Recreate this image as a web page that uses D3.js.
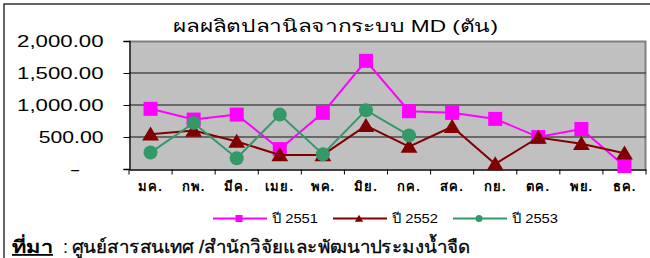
<!DOCTYPE html>
<html>
<head>
<meta charset="utf-8">
<script src="https://cdn.jsdelivr.net/npm/d3@7"></script>
<style>
  body { margin: 0; background: #fff; }
  text { font-family: Arial, "Liberation Sans", sans-serif; }
</style>
</head>
<body>
<svg id="chart" width="650" height="258"></svg>
<script>
var months = ["มค.", "กพ.", "มีค.", "เมย.", "พค.", "มิย.", "กค.", "สค.", "กย.", "ตค.", "พย.", "ธค."];
var y2551 = [940, 772, 850, 310, 877, 1690, 903, 877, 783, 499, 625, 47];
var y2552 = [543, 603, 430, 220, 220, 677, 351, 660, 79, 493, 394, 247];
var y2553 = [257, 720, 168, 850, 231, 918, 525];
var yTicks = [0, 500, 1000, 1500, 2000];
var yLabels = ["-", "500.00", "1,000.00", "1,500.00", "2,000.00"];

var series = [
  { name: "ปี 2551", values: y2551, color: "#ff00ff", marker: "square" },
  { name: "ปี 2552", values: y2552, color: "#800000", marker: "triangle" },
  { name: "ปี 2553", values: y2553, color: "#339966", marker: "circle" }
];

var svg = d3.select("#chart");

// outer frame (cut off at right and bottom like the source)
svg.append("rect").attr("x", 4).attr("y", 4).attr("width", 660).attr("height", 270)
  .attr("fill", "none").attr("stroke", "#000").attr("stroke-width", 1.2);

svg.append("text").attr("x", 173).attr("y", 32)
  .attr("font-size", 17).attr("fill", "#000")
  .attr("textLength", 325).attr("lengthAdjust", "spacingAndGlyphs")
  .text("ผลผลิตปลานิลจากระบบ MD (ตัน)");

var x = d3.scaleBand().domain(months).range([129, 646]);
var y = d3.scaleLinear().domain([0, 2000]).range([169, 41]);

// plot area
svg.append("rect").attr("x", 129).attr("y", 41).attr("width", 517).attr("height", 128)
  .attr("fill", "#c0c0c0");
svg.append("path").attr("d", "M129,41.5H645.5V169").attr("fill", "none")
  .attr("stroke", "#808080").attr("stroke-width", 2);

// gridlines
svg.append("g").selectAll("line").data(yTicks.slice(1, 4)).enter().append("line")
  .attr("x1", 129).attr("x2", 646)
  .attr("y1", function (d) { return y(d); }).attr("y2", function (d) { return y(d); })
  .attr("stroke", "#4d4d4d").attr("stroke-width", 1.5);

// y axis
var yAxis = svg.append("g").attr("transform", "translate(129.5,0)")
  .call(d3.axisLeft(y).tickValues(yTicks).tickSize(6)
    .tickFormat(function (d, i) { return yLabels[i]; }));
yAxis.select(".domain").attr("stroke", "#000").attr("stroke-width", 1.3);
yAxis.selectAll(".tick line").attr("stroke", "#000");
yAxis.selectAll("text")
  .attr("x", function (d) { return d === 0 ? -49 : -26; })
  .attr("dy", "0.3em")
  .attr("font-size", 17).attr("fill", "#000")
  .attr("font-family", "Arial, 'Liberation Sans', sans-serif")
  .attr("textLength", function (d, i) { return yLabels[i].length * 10.8; })
  .attr("lengthAdjust", "spacingAndGlyphs");

// x axis
var xAxis = svg.append("g").attr("transform", "translate(0,169.5)")
  .call(d3.axisBottom(x).tickSize(0).tickPadding(12));
xAxis.select(".domain").attr("stroke", "#000").attr("stroke-width", 1.3);
xAxis.selectAll("text").attr("font-size", 13).attr("font-weight", "bold").attr("fill", "#000")
  .attr("letter-spacing", 1).attr("font-family", "Arial, 'Liberation Sans', sans-serif");
xAxis.selectAll("line.bt").data(d3.range(months.length + 1)).enter().append("line")
  .attr("class", "bt")
  .attr("x1", function (i) { return 129 + i * x.step(); })
  .attr("x2", function (i) { return 129 + i * x.step(); })
  .attr("y1", 0).attr("y2", 5).attr("stroke", "#000");

function drawMarker(g, type, color, cx, cy, s) {
  if (type === "square") {
    g.append("rect").attr("x", cx - s / 2).attr("y", cy - s / 2).attr("width", s).attr("height", s)
      .attr("fill", color);
  } else if (type === "triangle") {
    g.append("path").attr("d", "M" + cx + "," + (cy - s * 0.55) + "L" + (cx + s * 0.6) + "," + (cy + s * 0.45)
      + "L" + (cx - s * 0.6) + "," + (cy + s * 0.45) + "Z").attr("fill", color);
  } else {
    g.append("circle").attr("cx", cx).attr("cy", cy).attr("r", s / 2).attr("fill", color);
  }
}

var line = d3.line()
  .x(function (d, i) { return x(months[i]) + x.bandwidth() / 2; })
  .y(function (d) { return y(d); });

series.forEach(function (s) {
  var g = svg.append("g");
  g.append("path").attr("d", line(s.values)).attr("fill", "none")
    .attr("stroke", s.color).attr("stroke-width", 2);
  s.values.forEach(function (v, i) {
    drawMarker(g, s.marker, s.color, x(months[i]) + x.bandwidth() / 2, y(v), 14);
  });
});

// legend
var legend = svg.append("g");
series.forEach(function (s, i) {
  var lx = 213 + i * 120;
  legend.append("line").attr("x1", lx).attr("x2", lx + 54).attr("y1", 218.5).attr("y2", 218.5)
    .attr("stroke", s.color).attr("stroke-width", 2);
  drawMarker(legend, s.marker, s.color, lx + 26, 218.5, 7);
  legend.append("text").attr("x", lx + 59).attr("y", 223).attr("font-size", 13).attr("fill", "#000")
    .attr("textLength", 46).attr("lengthAdjust", "spacingAndGlyphs")
    .text(s.name);
});

// source note
svg.append("text").attr("x", 12).attr("y", 253).attr("font-size", 18).attr("fill", "#000")
  .attr("font-weight", "bold").attr("text-decoration", "underline")
  .attr("textLength", 41).attr("lengthAdjust", "spacingAndGlyphs").text("ที่มา");
svg.append("text").attr("x", 63).attr("y", 253).attr("font-size", 18).attr("fill", "#000")
  .text(":");
svg.append("text").attr("x", 72).attr("y", 253).attr("font-size", 18).attr("fill", "#000")
  .attr("stroke", "#000").attr("stroke-width", 0.3)
  .attr("textLength", 399).attr("lengthAdjust", "spacingAndGlyphs")
  .text("ศูนย์สารสนเทศ /สำนักวิจัยและพัฒนาประมงน้ำจืด");
</script>
</body>
</html>
